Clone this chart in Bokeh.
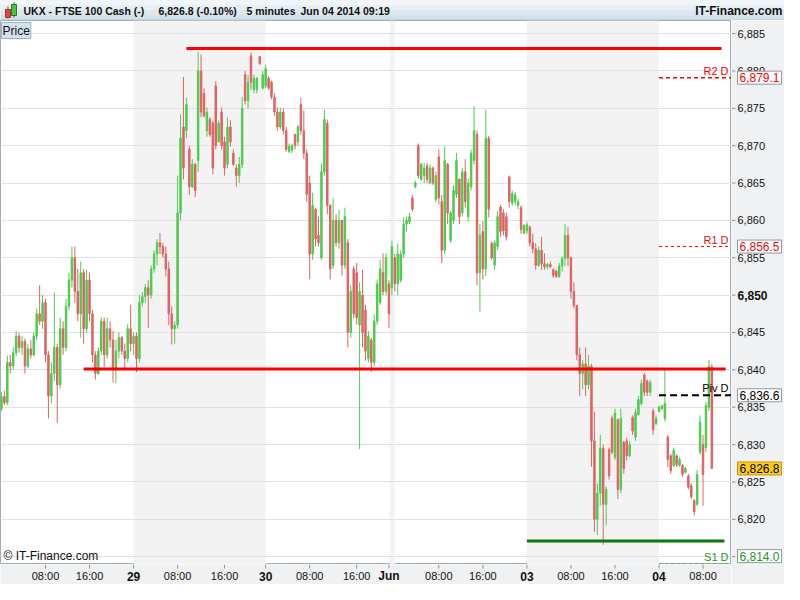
from bokeh.plotting import figure
from bokeh.models import (Range1d, FixedTicker, Label, ColumnDataSource, BoxAnnotation, Grid)
from bokeh.layouts import column, row
from bokeh.embed import file_html
from bokeh.resources import INLINE
from bokeh.core.properties import value

# ---------------- data: candles (one per ~3 px) ----------------
open_ = [6834.8, 6836.4, 6835.6, 6841.0, 6840.5, 6842.3, 6844.5, 6843.0, 6843.8, 6840.5,
         6842.8, 6842.0, 6844.5, 6847.5, 6846.5, 6849.0, 6842.0, 6836.5, 6839.5, 6843.0,
         6838.0, 6845.5, 6843.0, 6848.5, 6852.0, 6855.0, 6850.5, 6847.5, 6853.0, 6845.5,
         6852.0, 6847.5, 6842.0, 6839.5, 6842.5, 6846.5, 6842.0, 6845.5, 6844.0, 6840.0,
         6842.5, 6844.3, 6842.5, 6841.5, 6845.5, 6843.5, 6844.5, 6841.5, 6849.0, 6849.8,
         6851.0, 6850.0, 6853.5, 6855.5, 6857.0, 6856.5, 6855.5, 6853.5, 6847.5, 6845.5,
         6846.0, 6861.0, 6872.5, 6872.0, 6869.5, 6864.5, 6867.5, 6868.0, 6880.0, 6877.0,
         6872.0, 6873.5, 6873.0, 6878.0, 6870.5, 6874.5, 6870.5, 6867.5, 6872.5, 6869.0,
         6867.0, 6866.0, 6867.5, 6879.5, 6876.0, 6882.0, 6877.5, 6877.5, 6881.9, 6877.7,
         6878.0, 6879.0, 6878.5, 6876.5, 6874.5, 6872.5, 6874.5, 6872.0, 6869.2, 6869.4,
         6871.5, 6870.5, 6875.5, 6872.0, 6869.0, 6865.0, 6855.5, 6861.5, 6858.0, 6855.0,
         6866.5, 6873.0, 6862.0, 6854.0, 6860.0, 6857.0, 6860.0, 6854.0, 6857.0, 6845.0,
         6853.5, 6853.0, 6846.0, 6850.0, 6848.0, 6841.5, 6844.0, 6841.0, 6846.5, 6849.0,
         6853.0, 6850.5, 6851.5, 6851.0, 6855.0, 6851.5, 6852.0, 6855.5, 6859.5, 6859.8,
         6863.0, 6864.5, 6870.0, 6865.5, 6866.0, 6867.3, 6865.0, 6867.0, 6862.8, 6868.5,
         6862.5, 6856.0, 6867.5, 6857.3, 6860.0, 6863.5, 6865.5, 6861.0, 6866.5, 6860.5,
         6864.5, 6868.0, 6871.5, 6853.0, 6858.5, 6853.5, 6871.0, 6856.9, 6854.0, 6856.5,
         6861.8, 6861.0, 6860.5, 6865.8, 6862.3, 6862.5, 6862.0, 6861.7, 6858.3, 6858.6,
         6859.1, 6857.0, 6856.2, 6854.0, 6856.0, 6854.2, 6853.8, 6854.1, 6853.4, 6853.2,
         6852.5, 6853.9, 6854.9, 6858.0, 6855.0, 6850.5, 6848.6, 6842.0, 6839.5, 6840.8,
         6838.0, 6840.5, 6830.5, 6820.0, 6823.5, 6829.5, 6822.0, 6829.3, 6833.5, 6828.3,
         6833.3, 6824.0, 6830.3, 6830.5, 6828.5, 6833.6, 6831.0, 6834.0, 6835.5, 6839.3,
         6838.5, 6837.0, 6834.5, 6832.8, 6834.4, 6834.8, 6833.5, 6831.0, 6828.5, 6827.2,
         6828.5, 6827.2, 6827.2, 6826.3, 6825.8, 6824.5, 6822.5, 6822.0, 6829.0, 6830.0,
         6829.6, 6835.0, 6840.4]
high_ = [6837.0, 6837.2, 6841.9, 6842.0, 6843.0, 6845.2, 6845.0, 6844.5, 6844.2, 6843.5,
         6844.0, 6845.0, 6848.2, 6851.3, 6850.0, 6849.5, 6842.5, 6841.0, 6850.4, 6843.5,
         6847.0, 6846.5, 6849.5, 6853.0, 6856.5, 6856.5, 6853.5, 6854.5, 6853.5, 6853.4,
         6853.0, 6848.0, 6842.5, 6843.0, 6847.0, 6847.0, 6847.0, 6846.5, 6845.2, 6844.0,
         6845.0, 6844.5, 6843.5, 6846.1, 6848.7, 6845.0, 6845.0, 6850.0, 6850.4, 6851.5,
         6852.0, 6854.0, 6856.0, 6857.5, 6858.3, 6857.0, 6856.5, 6854.5, 6848.5, 6846.5,
         6866.0, 6874.2, 6879.2, 6876.4, 6870.0, 6868.2, 6867.7, 6882.6, 6882.2, 6877.7,
         6875.1, 6873.8, 6873.3, 6878.6, 6873.4, 6875.1, 6871.2, 6873.8, 6873.4, 6869.5,
         6867.5, 6868.5, 6876.5, 6880.0, 6879.5, 6882.5, 6879.5, 6879.2, 6882.0, 6880.0,
         6880.8, 6879.3, 6878.7, 6877.0, 6875.1, 6875.1, 6875.0, 6872.5, 6870.3, 6870.3,
         6871.6, 6872.8, 6876.4, 6874.7, 6869.5, 6866.0, 6863.7, 6861.7, 6860.5, 6867.6,
         6874.8, 6873.5, 6862.2, 6863.0, 6860.8, 6861.4, 6860.0, 6861.7, 6857.5, 6851.3,
         6853.9, 6854.3, 6851.7, 6853.4, 6848.7, 6845.2, 6844.3, 6847.4, 6852.1, 6854.7,
         6855.6, 6855.6, 6852.0, 6857.3, 6855.5, 6856.9, 6856.0, 6860.4, 6860.5, 6861.0,
         6863.4, 6865.3, 6870.3, 6867.7, 6867.7, 6867.7, 6867.5, 6867.2, 6866.5, 6869.5,
         6863.4, 6869.9, 6867.7, 6861.2, 6864.7, 6869.0, 6865.6, 6867.0, 6868.2, 6865.6,
         6869.5, 6875.3, 6872.0, 6859.5, 6859.9, 6874.8, 6871.3, 6857.2, 6857.3, 6861.2,
         6862.1, 6861.5, 6861.0, 6866.0, 6864.0, 6863.8, 6862.9, 6862.0, 6859.5, 6859.8,
         6859.3, 6858.2, 6856.9, 6856.5, 6857.8, 6855.6, 6854.3, 6854.5, 6853.6, 6853.4,
         6854.3, 6855.2, 6859.5, 6859.1, 6855.2, 6851.7, 6848.6, 6843.0, 6841.3, 6843.0,
         6842.0, 6840.8, 6834.4, 6824.8, 6831.3, 6830.0, 6824.4, 6829.6, 6833.9, 6834.8,
         6833.5, 6834.8, 6830.5, 6830.9, 6830.5, 6833.9, 6834.8, 6836.5, 6838.7, 6839.6,
         6838.7, 6838.7, 6834.8, 6833.9, 6835.2, 6835.3, 6840.0, 6831.3, 6828.7, 6829.6,
         6828.7, 6828.3, 6827.4, 6827.0, 6826.1, 6824.8, 6822.7, 6826.6, 6833.9, 6831.3,
         6835.7, 6841.3, 6840.8]
low_ = [6834.5, 6835.3, 6835.3, 6839.5, 6840.0, 6841.8, 6842.3, 6842.0, 6839.5, 6840.2,
        6841.5, 6841.8, 6844.0, 6846.0, 6845.5, 6841.0, 6833.5, 6835.5, 6838.5, 6832.9,
        6837.5, 6842.0, 6842.5, 6848.0, 6851.0, 6849.0, 6846.5, 6844.3, 6843.5, 6845.0,
        6846.5, 6841.0, 6838.7, 6839.3, 6842.0, 6840.4, 6841.5, 6843.0, 6838.3, 6838.2,
        6841.5, 6842.0, 6840.0, 6841.0, 6842.5, 6842.0, 6839.7, 6841.0, 6848.5, 6849.0,
        6845.6, 6849.5, 6853.0, 6854.0, 6855.5, 6855.0, 6852.5, 6846.0, 6843.4, 6843.5,
        6845.5, 6860.0, 6865.5, 6871.0, 6863.4, 6864.3, 6863.1, 6866.5, 6873.8, 6873.8,
        6871.2, 6871.2, 6866.2, 6869.5, 6870.5, 6869.5, 6866.0, 6867.0, 6869.9, 6867.3,
        6864.5, 6865.0, 6867.0, 6875.5, 6875.0, 6877.5, 6877.0, 6877.0, 6880.8, 6877.5,
        6877.7, 6877.5, 6876.2, 6874.0, 6872.0, 6872.2, 6871.5, 6869.2, 6869.0, 6869.0,
        6869.5, 6870.0, 6871.5, 6868.2, 6862.5, 6852.1, 6854.7, 6856.5, 6856.5, 6854.7,
        6866.0, 6860.8, 6852.1, 6853.5, 6856.5, 6856.2, 6852.6, 6853.5, 6843.0, 6844.3,
        6846.9, 6846.1, 6829.4, 6843.0, 6841.2, 6841.0, 6839.7, 6840.5, 6846.0, 6848.7,
        6850.0, 6850.0, 6845.6, 6850.0, 6850.5, 6850.0, 6851.7, 6855.0, 6858.5, 6859.5,
        6861.2, 6864.3, 6865.6, 6865.3, 6865.0, 6865.0, 6864.8, 6864.7, 6862.4, 6862.1,
        6854.3, 6855.5, 6859.5, 6857.0, 6859.5, 6863.0, 6859.5, 6860.5, 6861.7, 6859.9,
        6864.0, 6867.5, 6851.3, 6847.8, 6852.1, 6852.5, 6860.4, 6854.7, 6853.4, 6856.0,
        6857.8, 6858.0, 6857.3, 6861.7, 6861.9, 6862.0, 6861.5, 6858.2, 6858.2, 6858.2,
        6856.5, 6855.6, 6853.4, 6853.8, 6853.4, 6853.4, 6853.4, 6853.6, 6852.3, 6852.3,
        6852.3, 6853.2, 6853.9, 6853.9, 6849.5, 6848.2, 6841.3, 6836.5, 6837.4, 6836.5,
        6837.4, 6827.0, 6818.3, 6817.9, 6821.8, 6816.6, 6819.2, 6825.3, 6828.7, 6827.9,
        6822.7, 6823.5, 6826.1, 6827.9, 6828.3, 6831.3, 6830.5, 6833.9, 6835.2, 6836.5,
        6836.5, 6836.5, 6831.3, 6832.6, 6834.4, 6834.6, 6833.1, 6827.0, 6826.1, 6827.0,
        6827.0, 6827.0, 6825.7, 6826.1, 6824.0, 6822.7, 6820.5, 6821.8, 6828.7, 6821.8,
        6829.0, 6834.5, 6826.8]
close_ = [6836.4, 6835.6, 6841.0, 6840.5, 6842.3, 6844.5, 6843.0, 6843.8, 6840.5, 6842.8,
          6842.0, 6844.5, 6847.5, 6846.5, 6849.0, 6842.0, 6836.5, 6839.5, 6843.0, 6838.0,
          6845.5, 6843.0, 6848.5, 6852.0, 6855.0, 6850.5, 6847.5, 6853.0, 6845.5, 6852.0,
          6847.5, 6842.0, 6839.5, 6842.5, 6846.5, 6842.0, 6845.5, 6844.0, 6840.0, 6842.5,
          6844.3, 6842.5, 6841.5, 6845.5, 6843.5, 6844.5, 6841.5, 6849.0, 6849.8, 6851.0,
          6850.0, 6853.5, 6855.5, 6857.0, 6856.5, 6855.5, 6853.5, 6847.5, 6845.5, 6846.0,
          6861.0, 6871.0, 6867.0, 6875.5, 6864.5, 6867.5, 6864.0, 6880.0, 6874.5, 6874.0,
          6874.5, 6871.5, 6867.0, 6870.0, 6873.0, 6870.0, 6867.0, 6872.5, 6870.5, 6867.5,
          6866.0, 6867.5, 6875.0, 6876.0, 6878.5, 6878.5, 6879.0, 6879.0, 6881.0, 6879.5,
          6880.3, 6877.7, 6876.5, 6874.5, 6872.5, 6874.5, 6872.0, 6869.5, 6869.9, 6870.0,
          6870.0, 6872.5, 6872.0, 6869.0, 6863.5, 6855.5, 6862.0, 6857.5, 6857.0, 6866.5,
          6873.5, 6862.0, 6853.5, 6860.0, 6857.0, 6860.0, 6854.0, 6860.5, 6845.0, 6850.5,
          6847.5, 6847.0, 6850.5, 6845.0, 6842.5, 6844.5, 6841.0, 6846.5, 6851.5, 6853.5,
          6850.5, 6855.0, 6847.5, 6856.5, 6851.5, 6855.5, 6855.5, 6859.5, 6860.0, 6860.5,
          6861.5, 6865.0, 6866.0, 6867.5, 6867.0, 6865.5, 6867.0, 6865.0, 6866.0, 6863.0,
          6856.0, 6868.0, 6861.0, 6861.0, 6864.0, 6868.0, 6860.5, 6866.5, 6862.5, 6865.0,
          6869.0, 6872.0, 6853.0, 6858.0, 6853.5, 6871.0, 6861.5, 6855.0, 6857.0, 6860.5,
          6858.5, 6858.6, 6857.8, 6862.5, 6863.6, 6863.4, 6862.5, 6858.8, 6859.3, 6859.4,
          6857.0, 6856.2, 6854.0, 6856.0, 6854.2, 6853.8, 6854.1, 6853.8, 6852.6, 6852.5,
          6853.9, 6854.9, 6858.0, 6855.0, 6850.5, 6848.6, 6842.0, 6839.5, 6840.8, 6838.0,
          6840.5, 6830.5, 6820.0, 6823.5, 6829.5, 6822.0, 6824.0, 6825.8, 6829.0, 6834.2,
          6824.0, 6833.5, 6826.8, 6828.5, 6830.0, 6831.8, 6834.3, 6836.0, 6838.2, 6837.0,
          6837.0, 6838.3, 6832.0, 6833.5, 6835.0, 6835.2, 6835.5, 6828.0, 6826.5, 6829.2,
          6827.3, 6828.0, 6826.0, 6826.8, 6824.3, 6823.0, 6821.0, 6826.0, 6833.0, 6826.0,
          6835.2, 6840.5, 6826.8]

# x axis: bar index of each labelled time, and the labels
tick_bars = [15, 30, 45, 60, 76, 90, 105, 121, 132, 149, 164, 179, 194, 209, 224, 239]
tick_labels = ["08:00", "16:00", "29", "08:00", "16:00", "30", "08:00", "16:00", "Jun",
               "08:00", "16:00", "03", "08:00", "16:00", "04", "08:00"]
# alternate-day shading (bar index ranges)
band_start = [45, 132.3, 179]
band_end = [90, 134, 224]

# drawn support / resistance lines
sr_levels = [6883.0, 6840.1, 6817.1]
sr_from = [63, 28, 179]
sr_to = [245.3, 246.7, 246.3]
sr_colors = ["#ff0000", "#ff0000", "#0a7a0a"]

# daily pivot levels (start at bar index of Jun 04)
piv_names = ["R2 D", "R1 D", "Piv D", "S1 D"]
piv_levels = [6879.1, 6856.5, 6836.6, 6814.0]
piv_from = 224
last_price = 6826.8

price_ticks = [6815, 6820, 6825, 6830, 6835, 6840, 6845, 6850, 6855, 6860, 6865,
               6870, 6875, 6880, 6885]

# ---------------- layout constants ----------------
FONT = "Liberation Sans"
X0, X1 = -0.33, 248.7
Y0, Y1 = 6813.95, 6886.75
UP, DOWN = "#4fcc4f", "#e06464"
AXIS_BG = "#f0f1f2"
AXIS_LINE = "#a3adb5"
TICK_C = "#8c969e"

# ---------------- header ----------------
hdr = figure(width=784, height=20, x_range=Range1d(0, 784), y_range=Range1d(0, 20),
             output_backend="svg", toolbar_location=None,
             x_axis_location=None, y_axis_location=None, min_border=0)
hdr.grid.visible = False
hdr.outline_line_color = None
hdr.background_fill_color = "#dfe9ef"
for b, t, c in [(15, 20, "#f1f6f9"), (10, 15, "#e7eff4"), (5, 10, "#dce7ee"), (0, 5, "#d2e0e9")]:
    hdr.add_layout(BoxAnnotation(bottom=b, top=t, fill_color=c, fill_alpha=1, line_alpha=0,
                                 level="underlay"))
hdr.add_layout(BoxAnnotation(bottom=0, top=0.8, fill_color="#9fb2bf", fill_alpha=1, line_alpha=0))
# small candle icon
hdr.segment(x0=[7.5, 13.5], y0=[14, 18], x1=[7.5, 13.5], y1=[2, 3], color=["#a03030", "#208020"],
            line_width=1)
hdr.quad(left=[5, 11], right=[10, 16], bottom=[3, 5], top=[11, 16],
         fill_color=["#e04848", "#44c844"], line_color=["#a03030", "#208020"])
for txt, xx in [("UKX - FTSE 100 Cash (-)", 23), ("6,826.8 (-0.10%)", 158),
                ("5 minutes", 246), ("Jun 04 2014 09:19", 300)]:
    hdr.add_layout(Label(x=xx, y=10, text=txt, text_font=FONT,
                         text_font_style="bold", text_font_size="10.5px", text_color="#111111",
                         text_baseline="middle", text_align="left"))
hdr.add_layout(Label(x=782, y=10, text="IT-Finance.com", text_font=FONT, text_font_style="bold",
                     text_font_size="12px", text_color="#111111", text_baseline="middle",
                     text_align="right"))

# ---------------- main chart ----------------
p = figure(width=731, height=544, x_range=Range1d(X0, X1), y_range=Range1d(Y0, Y1),
           output_backend="svg", toolbar_location=None, x_axis_location=None,
           y_axis_location=None, min_border=0)
p.background_fill_color = "white"
p.border_fill_color = AXIS_BG
p.outline_line_color = AXIS_LINE

for s, e in zip(band_start, band_end):
    p.add_layout(BoxAnnotation(left=s, right=e, fill_color="#f3f3f3", fill_alpha=1,
                               line_alpha=0, level="underlay"))

p.grid.visible = False
p.add_layout(Grid(dimension=1, ticker=FixedTicker(ticks=price_ticks), grid_line_color="#e2e2e2"))

# candles
idx = list(range(len(close_)))
colors = [UP if c >= o else DOWN for o, c in zip(open_, close_)]
src = ColumnDataSource(dict(x=idx, h=high_, l=low_,
                            top=[max(o, c) for o, c in zip(open_, close_)],
                            bot=[min(o, c) for o, c in zip(open_, close_)],
                            color=colors))
p.segment(x0="x", y0="h", x1="x", y1="l", line_color="color", line_width=1, source=src)
p.vbar(x="x", width=0.5, top="top", bottom="bot", fill_color="color", line_color="color",
       line_width=1, source=src)

# support / resistance lines
p.segment(x0=sr_from, y0=sr_levels, x1=sr_to, y1=sr_levels, line_color=sr_colors, line_width=3)

# ---------------- time scale strip (shares the x range) ----------------
bot = figure(width=731, height=20, x_range=p.x_range, y_range=Range1d(0, 20),
             output_backend="svg", toolbar_location=None,
             x_axis_location=None, y_axis_location=None, min_border=0)
bot.grid.visible = False
bot.background_fill_color = AXIS_BG
bot.border_fill_color = AXIS_BG
bot.outline_line_color = None
bot.segment(x0=tick_bars, y0=[20] * len(tick_bars), x1=tick_bars, y1=[16] * len(tick_bars),
            line_color=TICK_C, line_width=1)
day_i = [i for i, l in enumerate(tick_labels) if ":" not in l]
time_i = [i for i, l in enumerate(tick_labels) if ":" in l]
bot.text(x=[tick_bars[i] for i in time_i], y=[8.5] * len(time_i),
         text=[tick_labels[i] for i in time_i], text_font=value(FONT), text_font_size="11px",
         text_color="#111111", text_align="center", text_baseline="middle")
bot.text(x=[tick_bars[i] for i in day_i], y=[8.5] * len(day_i),
         text=[tick_labels[i] for i in day_i], text_font=value(FONT), text_font_size="12px",
         text_font_style="bold", text_color="#111111", text_align="center",
         text_baseline="middle")

# ---------------- right price scale (own panel sharing the y range) ----------------
side = figure(width=53, height=564, x_range=Range1d(0, 53), y_range=p.y_range,
              output_backend="svg", toolbar_location=None,
              x_axis_location=None, y_axis_location=None,
              min_border_left=0, min_border_top=0, min_border_right=0, min_border_bottom=20)
side.grid.visible = False
side.background_fill_color = AXIS_BG
side.border_fill_color = AXIS_BG
side.outline_line_color = None
side.segment(x0=[0] * len(price_ticks), y0=price_ticks, x1=[4] * len(price_ticks),
             y1=price_ticks, line_color=TICK_C, line_width=1)
tick_txt = [f"{t:,}" for t in price_ticks]
normal = [i for i, t in enumerate(price_ticks) if t != 6850]
side.text(x=[6] * len(normal), y=[price_ticks[i] for i in normal],
          text=[tick_txt[i] for i in normal], text_font=value(FONT), text_font_size="11px",
          text_color="#111111", text_baseline="middle", text_align="left")
side.text(x=[6], y=[6850], text=["6,850"], text_font=value(FONT), text_font_size="12px",
          text_font_style="bold", text_color="#111111", text_baseline="middle", text_align="left")

# pivot lines, their names and value boxes
piv_style = [("#ff0000", 1.5, "4 3"), ("#ff0000", 1, "3 3"), ("#000000", 2, "7 4"),
             ("#1f8f1f", 1, "3 3")]
piv_text_colors = ["#ff0000", "#e01010", "#000000", "#1a9a1a"]
for name, lev, (col, lw, dash), tcol in zip(piv_names, piv_levels, piv_style, piv_text_colors):
    p.segment(x0=[piv_from], y0=[lev], x1=[X1], y1=[lev], line_color=col, line_width=lw,
              line_dash=dash)
    p.add_layout(Label(x=X1, y=lev, x_offset=-3, y_offset=1, text=name, text_font=FONT,
                       text_font_size="11px", text_color=tcol, text_align="right",
                       text_baseline="bottom"))
    yoff = 8 if lev - Y0 < 1 else 0
    side.add_layout(Label(x=6, y=lev, y_offset=yoff, text=f"{lev:,.1f}",
                          text_font=FONT, text_font_size="12px", text_color=tcol,
                          text_align="left", text_baseline="middle",
                          background_fill_color="white", border_line_color="#8c9aa5",
                          padding=2))

side.add_layout(Label(x=6, y=last_price, text=f"{last_price:,.1f}", text_font=FONT,
                      text_font_size="12px", text_color="#000000", text_align="left",
                      text_baseline="middle", background_fill_color="#ffcc1a",
                      border_line_color="#c99a00", padding=2))

# "Price" tab and copyright
p.add_layout(Label(x=X0, y=Y1, x_offset=1, y_offset=-2, text="Price", text_font=FONT,
                   text_font_size="12px", text_color="#111111", text_align="left",
                   text_baseline="top", background_fill_color="#d3e2ec",
                   border_line_color="#9eb1be", padding=1))
p.add_layout(Label(x=X0, y=Y0, x_offset=3, y_offset=2, text="\u00a9 IT-Finance.com",
                   text_font=FONT, text_font_size="12px", text_color="#111111",
                   text_align="left", text_baseline="bottom"))

layout = column(hdr, row(column(p, bot, spacing=0), side, spacing=0), spacing=0)
open("out.html", "w").write(file_html(layout, INLINE))
